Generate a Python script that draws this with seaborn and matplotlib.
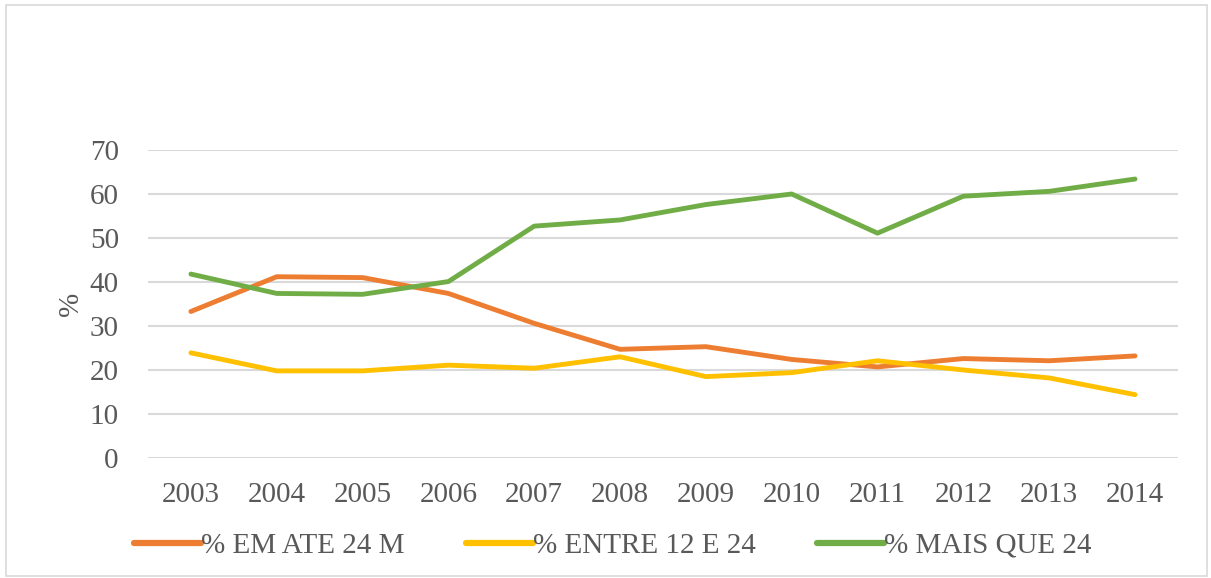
import matplotlib
matplotlib.use("Agg")
import matplotlib.pyplot as plt
from matplotlib.patches import Rectangle
import pandas as pd
import seaborn as sns

YEARS = ["2003", "2004", "2005", "2006", "2007", "2008",
         "2009", "2010", "2011", "2012", "2013", "2014"]
ATE_24M = [33.3, 41.2, 41.0, 37.4, 30.6, 24.7, 25.3, 22.4, 20.7, 22.6, 22.1, 23.2]
ENTRE_12_24 = [23.9, 19.8, 19.8, 21.1, 20.4, 23.0, 18.5, 19.4, 22.1, 20.0, 18.2, 14.4]
MAIS_QUE_24 = [41.8, 37.4, 37.2, 40.1, 52.7, 54.1, 57.6, 60.0, 51.1, 59.5, 60.6, 63.4]

SERIES = ["% EM ATE 24 M", "% ENTRE 12 E 24", "% MAIS QUE 24"]
COLORS = ["#ED7D31", "#FFC000", "#70AD47"]

sns.set_style("white")
plt.rcParams["font.family"] = ["Liberation Serif", "DejaVu Serif"]

df = pd.DataFrame({
    "Ano": YEARS * 3,
    "Valor": ATE_24M + ENTRE_12_24 + MAIS_QUE_24,
    "Serie": [SERIES[0]] * 12 + [SERIES[1]] * 12 + [SERIES[2]] * 12,
})

fig = plt.figure(figsize=(12.11, 5.78), dpi=100)
ax = fig.add_axes([0.1222, 0.2076, 0.8505, 0.5329])

sns.lineplot(data=df, x="Ano", y="Valor", hue="Serie", palette=COLORS,
             linewidth=3.5, ax=ax, sort=False)

ax.set_xlim(-0.5, 11.5)
ax.set_ylim(0, 70)
ax.set_yticks(range(0, 71, 10))
ax.grid(axis="y", color="#D9D9D9", linewidth=1.5)
ax.set_axisbelow(True)
for side in ["top", "right", "left", "bottom"]:
    ax.spines[side].set_visible(False)
ax.tick_params(axis="both", length=0, labelsize=21, labelcolor="#595959")
ax.tick_params(axis="x", pad=17)
ax.tick_params(axis="y", pad=21)
ax.set_xlabel("")
ax.set_ylabel("%", fontsize=21, color="#595959", labelpad=4)

handles, labels = ax.get_legend_handles_labels()
ax.legend_.remove()
for h in handles:
    h.set_linewidth(4.5)
fig.legend(handles, labels, loc="center", bbox_to_anchor=(0.506, 0.056), ncol=3,
           frameon=False, fontsize=21, handlelength=2.3, handletextpad=0.0,
           columnspacing=2.1, labelcolor="#595959")

fig.patches.append(Rectangle((0.005, 0.004), 0.992, 0.987, transform=fig.transFigure,
                             fill=False, edgecolor="#D9D9D9", linewidth=1.2))

fig.savefig("out.png", dpi=100)
